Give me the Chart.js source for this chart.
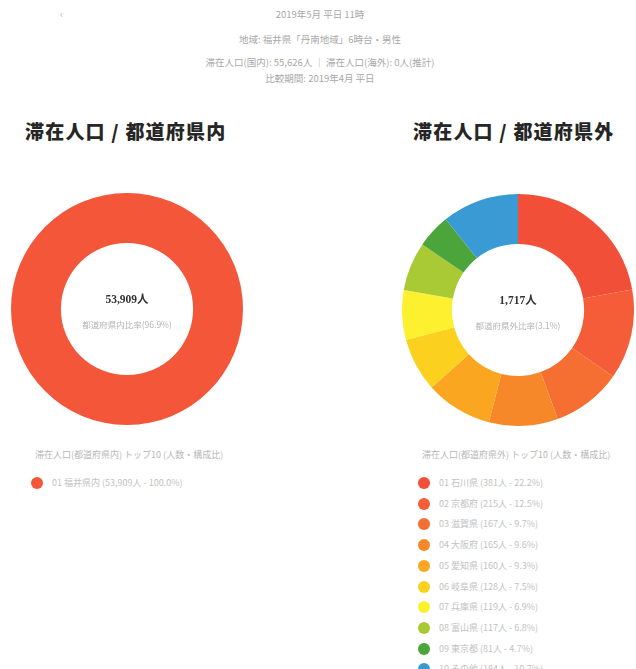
<!DOCTYPE html>
<html><head><meta charset="utf-8">
<script src="https://cdn.jsdelivr.net/npm/chart.js@4"></script>
<style>
body{margin:0;width:636px;height:669px;overflow:hidden;background:#fff;font-family:"Noto Sans CJK JP","Noto Sans",sans-serif;position:relative}
.hd{position:absolute;left:0;width:640px;text-align:center;color:#a8a8a8;font-size:9.5px;line-height:11px;white-space:nowrap}
.ttl{position:absolute;top:117px;font-size:19px;font-weight:900;color:#262626;white-space:nowrap;letter-spacing:1.2px}
canvas{position:absolute}
.lh{position:absolute;font-size:9px;color:#b8b8b8;white-space:nowrap}
.li{position:absolute;font-size:9px;color:#c2c2c2;white-space:nowrap;line-height:12px}
.dot{position:absolute;width:12px;height:12px;border-radius:50%}
</style></head><body>
<div class="hd" style="left:60px;width:10px;text-align:left;top:9px">‹</div>
<div class="hd" style="top:9px">2019年5月 平日 11時</div>
<div class="hd" style="top:34px">地域: 福井県「丹南地域」6時台・男性</div>
<div class="hd" style="top:57px">滞在人口(国内): 55,626人 ｜ 滞在人口(海外): 0人(推計)</div>
<div class="hd" style="top:73px">比較期間: 2019年4月 平日</div>
<div class="ttl" style="left:25px">滞在人口 / 都道府県内</div>
<div class="ttl" style="left:413px">滞在人口 / 都道府県外</div>
<canvas id="cIn" width="232" height="232" style="left:11px;top:193px"></canvas>
<canvas id="cOut" width="232" height="232" style="left:402px;top:194px"></canvas>
<div id="legIn"></div>
<div id="legOut"></div>
<script>
const inLabels = ['福井県内'];
const inValues = [53909];
const inColors = ['#f4563a'];

const outLabels = ['石川県','京都府','滋賀県','大阪府','愛知県','岐阜県','兵庫県','富山県','東京都','その他'];
const outValues = [381, 215, 167, 165, 160, 128, 119, 117, 81, 184];
const outColors = ['#f24f38','#f45d38','#f56e32','#f7882a','#fba621','#fcd01f','#fdf02e','#a9c935','#4ca53a','#3a9ad4'];

const inTotal = 53909, outTotal = 1717, allTotal = 55626;

function fmt(n){return n.toLocaleString('en-US');}

const centerText = {
  id:'centerText',
  afterDraw(chart, args, opts){
    const ctx = chart.ctx;
    const a = chart.chartArea;
    const cx = (a.left+a.right)/2, cy = (a.top+a.bottom)/2;
    ctx.save();
    ctx.textAlign='center'; ctx.textBaseline='middle';
    ctx.fillStyle='#333';
    ctx.font='bold 11.5px "Liberation Serif","Noto Sans CJK JP",serif';
    ctx.fillText(opts.main, cx, cy-9);
    ctx.fillStyle='#b4b4b4';
    ctx.font='8.5px "Noto Sans CJK JP",sans-serif';
    ctx.fillText(opts.sub, cx, cy+16);
    ctx.restore();
  }
};

function makeChart(id, labels, values, colors, main, sub){
  new Chart(document.getElementById(id), {
    type:'doughnut',
    data:{labels, datasets:[{data:values, backgroundColor:colors, borderWidth:0}]},
    options:{
      responsive:false, animation:false, cutout:'57%',
      layout:{padding:0},
      plugins:{legend:{display:false}, tooltip:{enabled:false}, centerText:{main, sub}}
    },
    plugins:[centerText]
  });
}
makeChart('cIn', inLabels, inValues, inColors, fmt(inTotal)+'人', '都道府県内比率('+(inTotal/allTotal*100).toFixed(1)+'%)');
makeChart('cOut', outLabels, outValues, outColors, fmt(outTotal)+'人', '都道府県外比率('+(outTotal/allTotal*100).toFixed(1)+'%)');

function legend(elId, x, head, labels, values, colors, total){
  const el = document.getElementById(elId);
  let h = '<div class="lh" style="left:'+(x-2)+'px;top:448px">'+head+'</div>';
  labels.forEach((l,i)=>{
    const y = 477 + i*20.7;
    const num = String(i+1).padStart(2,'0');
    h += '<div class="dot" style="left:'+(x-6)+'px;top:'+y+'px;background:'+colors[i]+'"></div>';
    h += '<div class="li" style="left:'+(x+15)+'px;top:'+y+'px">'+num+' '+l+' ('+fmt(values[i])+'人 - '+(values[i]/total*100).toFixed(1)+'%)</div>';
  });
  el.innerHTML = h;
}
legend('legIn', 37, '滞在人口(都道府県内) トップ10 (人数・構成比)', inLabels, inValues, inColors, inTotal);
legend('legOut', 424, '滞在人口(都道府県外) トップ10 (人数・構成比)', outLabels, outValues, outColors, outTotal);
</script>
</body></html>
